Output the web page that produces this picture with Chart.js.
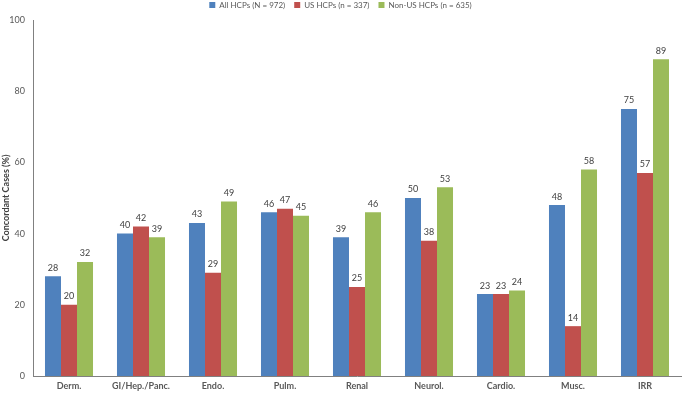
<!DOCTYPE html>
<html>
<head>
<meta charset="utf-8">
<script src="https://cdn.jsdelivr.net/npm/chart.js@4/dist/chart.umd.min.js"></script>
<style>
  html, body { margin: 0; padding: 0; background: #fff; }
  #wrap { width: 685px; height: 393px; }
</style>
</head>
<body>
<div id="wrap"><canvas id="myBarChart"></canvas></div>
<script>
const categories = ["Derm.", "GI/Hep./Panc.", "Endo.", "Pulm.", "Renal", "Neurol.", "Cardio.", "Musc.", "IRR"];
const allHCPs = [28, 40, 43, 46, 39, 50, 23, 48, 75];
const usHCPs = [20, 42, 29, 47, 25, 38, 23, 14, 57];
const nonUsHCPs = [32, 39, 49, 45, 46, 53, 24, 58, 89];
const yTicks = [0, 20, 40, 60, 80, 100];

const FONT = "Lato, 'Open Sans', sans-serif";
const LEGEND_PAD = 9;

// legend: fixed 20px band, text centred near y = 5
const legendFix = {
  id: "legendFix",
  beforeInit(chart) {
    const fit = chart.legend.fit;
    chart.legend.fit = function () {
      fit.call(this);
      this.height = 20;
    };
  },
  afterLayout(chart) {
    chart.legend.top = 1 - LEGEND_PAD;
  }
};

const valueLabels = {
  id: "valueLabels",
  afterDatasetsDraw(chart) {
    const ctx = chart.ctx;
    ctx.save();
    ctx.font = "9px " + FONT;
    ctx.fillStyle = "#404040";
    ctx.textAlign = "center";
    ctx.textBaseline = "bottom";
    chart.data.datasets.forEach((ds, i) => {
      chart.getDatasetMeta(i).data.forEach((bar, j) => {
        ctx.fillText(ds.data[j], bar.x, bar.y - 4);
      });
    });
    ctx.restore();
  }
};

new Chart(document.getElementById("myBarChart"), {
  type: "bar",
  data: {
    labels: categories,
    datasets: [
      { label: "All HCPs (N = 972)", data: allHCPs, backgroundColor: "#4F81BD" },
      { label: "US HCPs (n = 337)", data: usHCPs, backgroundColor: "#C0504D" },
      { label: "Non-US HCPs (n = 635)", data: nonUsHCPs, backgroundColor: "#9BBB59" }
    ]
  },
  options: {
    responsive: true,
    maintainAspectRatio: false,
    animation: false,
    datasets: { bar: { categoryPercentage: 0.667, barPercentage: 1.0 } },
    layout: { padding: { left: 0, right: 4, top: 0, bottom: 0 } },
    plugins: {
      legend: {
        position: "top",
        labels: {
          boxWidth: 6,
          boxHeight: 6,
          padding: LEGEND_PAD,
          color: "#595959",
          font: { family: FONT, size: 8 }
        }
      },
      tooltip: { enabled: false }
    },
    scales: {
      x: {
        grid: { display: false, drawTicks: false },
        border: { color: "#808080", width: 1 },
        ticks: {
          color: "#595959",
          padding: 5,
          maxRotation: 0,
          font: { family: FONT, size: 9, weight: "bold" }
        },
        afterFit(scale) { scale.height = 17; }
      },
      y: {
        min: 0,
        max: 100,
        afterBuildTicks(scale) { scale.ticks = yTicks.map(v => ({ value: v })); },
        grid: { display: false, drawTicks: false },
        border: { color: "#808080", width: 1 },
        ticks: {
          color: "#595959",
          padding: 8,
          font: { family: FONT, size: 9 }
        },
        title: {
          display: true,
          text: "Concordant Cases (%)",
          color: "#404040",
          padding: { top: 1, bottom: 0 },
          font: { family: FONT, size: 9, weight: "bold" }
        },
        afterFit(scale) { scale.width = 33; }
      }
    }
  },
  plugins: [legendFix, valueLabels]
});
</script>
</body>
</html>
